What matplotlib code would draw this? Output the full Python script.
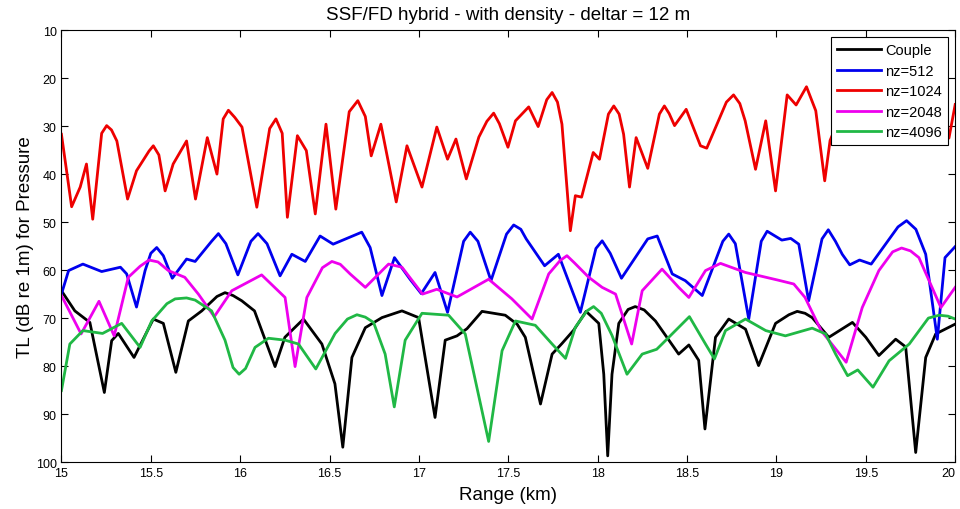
import matplotlib
matplotlib.use("Agg")
import matplotlib.pyplot as plt

plt.rcParams['font.family'] = ['Liberation Sans', 'DejaVu Sans']

# Couple
r_couple = [15.00, 15.075, 15.159, 15.24, 15.281, 15.318, 15.406, 15.514, 15.57, 15.64,
            15.71, 15.785, 15.87, 15.915, 15.96, 16.009, 16.08, 16.195, 16.25, 16.354,
            16.457, 16.53, 16.574, 16.625, 16.70, 16.793, 16.905, 16.998, 17.09, 17.147,
            17.213, 17.269, 17.353, 17.483, 17.55, 17.595, 17.68, 17.745, 17.80, 17.866,
            17.935, 18.006, 18.034, 18.056, 18.08, 18.118, 18.17, 18.21, 18.26, 18.323,
            18.453, 18.51, 18.565, 18.60, 18.659, 18.733, 18.827, 18.90, 18.995, 19.07,
            19.116, 19.16, 19.20, 19.293, 19.425, 19.50, 19.573, 19.667, 19.723, 19.779,
            19.835, 19.891, 20.0]
tl_couple = [64.3, 68.5, 70.9, 85.5, 74.7, 73.2, 78.2, 70.2, 71.1, 81.3,
             70.6, 68.5, 65.5, 64.7, 65.3, 66.4, 68.5, 80.1, 74.0, 70.2,
             75.4, 83.7, 96.9, 78.2, 72.0, 69.9, 68.5, 69.9, 90.7, 74.6,
             73.7, 72.2, 68.6, 69.4, 71.3, 74.0, 87.9, 77.5, 75.3, 72.5,
             68.6, 71.1, 81.7, 98.7, 81.7, 71.1, 68.2, 67.6, 68.3, 70.6,
             77.5, 75.6, 78.8, 93.1, 74.0, 70.2, 72.3, 79.9, 71.1, 69.3,
             68.6, 69.0, 69.9, 74.0, 70.9, 74.0, 77.8, 74.4, 76.0, 98.0,
             78.2, 73.3, 71.25]

# nz=512
r_512 = [15.00, 15.04, 15.12, 15.225, 15.33, 15.365, 15.42, 15.468, 15.50, 15.533,
         15.57, 15.62, 15.70, 15.748, 15.84, 15.878, 15.92, 15.987, 16.06, 16.10,
         16.15, 16.223, 16.289, 16.364, 16.447, 16.52, 16.68, 16.727, 16.793, 16.863,
         16.95, 17.013, 17.09, 17.16, 17.25, 17.287, 17.33, 17.403, 17.49, 17.53,
         17.57, 17.60, 17.703, 17.78, 17.903, 17.99, 18.025, 18.07, 18.133, 18.28,
         18.333, 18.417, 18.49, 18.585, 18.70, 18.733, 18.77, 18.845, 18.915, 18.948,
         19.03, 19.08, 19.125, 19.18, 19.255, 19.29, 19.33, 19.368, 19.41, 19.465,
         19.53, 19.68, 19.728, 19.78, 19.835, 19.90, 19.943, 20.0]
tl_512 = [65.0, 60.1, 58.75, 60.3, 59.4, 60.8, 67.7, 60.1, 56.5, 55.3,
          57.0, 61.7, 57.7, 58.2, 54.0, 52.4, 54.5, 61.0, 54.0, 52.4,
          54.5, 61.2, 56.7, 58.2, 52.9, 54.6, 52.1, 55.3, 65.3, 57.4,
          61.9, 64.9, 60.5, 68.8, 54.0, 52.1, 54.0, 62.2, 52.5, 50.6,
          51.5, 53.5, 59.1, 56.7, 68.8, 55.5, 53.9, 56.5, 61.7, 53.5,
          52.9, 60.8, 62.2, 65.3, 54.0, 52.5, 54.5, 70.2, 54.0, 51.9,
          53.75, 53.4, 54.6, 66.4, 53.5, 51.6, 54.0, 56.7, 58.9, 57.9,
          58.75, 51.0, 49.7, 51.5, 56.7, 74.4, 57.4, 55.1]

# nz=1024
r_1024 = [15.00, 15.057, 15.105, 15.14, 15.175, 15.225, 15.253, 15.28, 15.31, 15.37,
          15.42, 15.49, 15.514, 15.545, 15.58, 15.625, 15.70, 15.75, 15.816, 15.87,
          15.905, 15.934, 15.97, 16.01, 16.093, 16.165, 16.20, 16.235, 16.264, 16.32,
          16.37, 16.42, 16.48, 16.535, 16.61, 16.658, 16.70, 16.733, 16.787, 16.873,
          16.933, 17.017, 17.10, 17.16, 17.207, 17.265, 17.335, 17.38, 17.418, 17.45,
          17.498, 17.54, 17.614, 17.667, 17.715, 17.745, 17.775, 17.80, 17.847, 17.875,
          17.91, 17.975, 18.01, 18.06, 18.09, 18.12, 18.145, 18.178, 18.215, 18.28,
          18.345, 18.373, 18.40, 18.43, 18.495, 18.575, 18.61, 18.72, 18.76, 18.795,
          18.825, 18.883, 18.94, 18.995, 19.06, 19.11, 19.168, 19.22, 19.27, 19.30,
          19.40, 19.55, 19.70, 19.85, 19.94, 19.965, 20.0]
tl_1024 = [31.7, 46.8, 42.7, 37.9, 49.4, 31.5, 29.9, 30.8, 33.1, 45.2,
           39.3, 35.2, 34.1, 36.0, 43.5, 37.9, 33.1, 45.2, 32.4, 40.0,
           28.5, 26.7, 28.2, 30.2, 46.9, 30.5, 28.5, 31.5, 49.0, 32.0,
           35.1, 48.3, 29.6, 47.3, 27.0, 24.7, 28.0, 36.2, 29.6, 45.8,
           34.1, 42.7, 30.2, 36.9, 32.7, 41.0, 32.3, 29.0, 27.3, 29.5,
           34.4, 28.9, 26.0, 30.1, 24.5, 23.0, 25.0, 29.6, 51.8, 44.5,
           44.8, 35.5, 36.9, 27.5, 25.8, 27.5, 31.7, 42.7, 32.4, 38.8,
           27.5, 25.8, 27.4, 29.9, 26.5, 34.1, 34.6, 25.0, 23.5, 25.3,
           28.9, 39.0, 28.9, 43.5, 23.5, 25.6, 21.8, 26.8, 41.4, 33.0,
           24.0, 27.0, 23.0, 26.0, 30.0, 32.5, 25.5]

# nz=2048
r_2048 = [15.00, 15.11, 15.21, 15.295, 15.374, 15.44, 15.49, 15.54, 15.598, 15.69,
          15.766, 15.855, 15.953, 16.12, 16.251, 16.307, 16.373, 16.46, 16.513, 16.56,
          16.615, 16.70, 16.83, 16.905, 17.02, 17.10, 17.213, 17.39, 17.52, 17.633,
          17.726, 17.79, 17.828, 17.87, 17.95, 18.025, 18.10, 18.19, 18.249, 18.36,
          18.453, 18.51, 18.603, 18.687, 18.827, 19.01, 19.097, 19.16, 19.25, 19.39,
          19.48, 19.573, 19.65, 19.70, 19.75, 19.797, 19.92, 20.0]
tl_2048 = [65.3, 73.3, 66.5, 73.7, 61.5, 59.2, 57.9, 58.3, 60.1, 61.5,
           65.0, 69.7, 64.3, 61.0, 65.7, 80.1, 65.7, 59.5, 58.2, 58.8,
           60.8, 63.6, 58.75, 59.4, 65.0, 64.0, 65.6, 61.9, 66.0, 70.2,
           60.8, 58.0, 57.0, 58.5, 61.5, 63.6, 65.0, 75.4, 64.3, 59.8,
           63.6, 65.7, 60.1, 58.6, 60.5, 62.1, 62.9, 65.7, 72.6, 79.2,
           67.8, 60.1, 56.2, 55.4, 56.0, 57.4, 67.8, 63.6]

# nz=4096
r_4096 = [15.00, 15.047, 15.12, 15.23, 15.337, 15.44, 15.505, 15.59, 15.636, 15.70,
          15.748, 15.84, 15.915, 15.96, 15.994, 16.03, 16.083, 16.158, 16.251, 16.326,
          16.423, 16.531, 16.60, 16.653, 16.70, 16.746, 16.811, 16.862, 16.923, 17.017,
          17.166, 17.259, 17.39, 17.465, 17.54, 17.651, 17.745, 17.82, 17.875, 17.94,
          17.977, 18.02, 18.08, 18.164, 18.249, 18.33, 18.36, 18.513, 18.603, 18.653,
          18.715, 18.827, 18.94, 19.05, 19.2, 19.275, 19.331, 19.398, 19.455, 19.54,
          19.63, 19.743, 19.85, 19.91, 19.96, 20.0]
tl_4096 = [85.1, 75.4, 72.6, 73.2, 71.1, 76.1, 70.6, 67.0, 66.0, 65.8,
           66.25, 68.5, 74.6, 80.3, 81.7, 80.5, 76.1, 74.2, 74.6, 75.4,
           80.6, 73.2, 70.2, 69.3, 69.8, 70.9, 77.5, 88.5, 74.6, 69.0,
           69.4, 73.3, 95.7, 76.8, 70.6, 71.5, 75.4, 78.4, 71.9, 68.5,
           67.6, 69.0, 73.6, 81.7, 77.5, 76.5, 75.4, 69.7, 75.4, 78.5,
           72.6, 70.2, 72.6, 73.7, 72.1, 73.3, 77.5, 82.0, 80.8, 84.4,
           78.9, 75.4, 70.0, 69.4, 69.6, 70.2]

xtick_labels = ['15', '15.5', '16', '16.5', '17', '17.5', '18', '18.5', '19', '19.5', '20']

fig = plt.figure(figsize=(9.6, 5.1), dpi=100)
ax = fig.add_axes([0.064, 0.092, 0.931, 0.847])

lw = 2
ax.plot(r_couple, tl_couple, color='black', lw=lw, label='Couple')
ax.plot(r_512, tl_512, color='#0000ee', lw=lw, label='nz=512')
ax.plot(r_1024, tl_1024, color='#ee0000', lw=lw, label='nz=1024')
ax.plot(r_2048, tl_2048, color='#ee00ee', lw=lw, label='nz=2048')
ax.plot(r_4096, tl_4096, color='#20b845', lw=lw, label='nz=4096')

ax.set_xlim(15, 20)
ax.set_ylim(100, 10)
ax.set_xticks([15 + 0.5 * i for i in range(len(xtick_labels))])
ax.set_xticklabels(xtick_labels)
ax.get_xticklabels()[-1].set_horizontalalignment('right')
ax.set_yticks(range(10, 101, 10))
ax.tick_params(direction='in', top=True, right=True, labelsize=9, length=5)
ax.set_xlabel('Range (km)', fontsize=13.5, labelpad=5)
ax.set_ylabel('TL (dB re 1m) for Pressure', fontsize=13.5, labelpad=1)
ax.set_title('SSF/FD hybrid - with density - deltar = 12 m', fontsize=13.5, pad=8)

leg = ax.legend(loc='upper right', fontsize=10.5, fancybox=False, edgecolor='black',
                framealpha=1, handlelength=3.0, borderaxespad=0.5, labelspacing=0.45,
                handletextpad=0.3, borderpad=0.4)
leg.get_frame().set_linewidth(0.8)

fig.savefig('out.png', dpi=100)
